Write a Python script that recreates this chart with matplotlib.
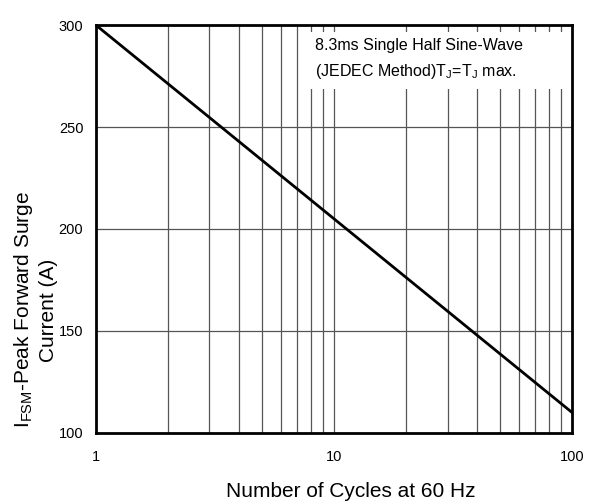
import numpy as np
import matplotlib.pyplot as plt

plt.rcParams['font.family'] = ['Liberation Sans', 'DejaVu Sans']

# surge curve endpoints
cycles = [1, 100]
current = [300, 110]

x_ticks = [1, 10, 100]
y_ticks = [100, 150, 200, 250, 300]

fig = plt.figure(figsize=(5.99, 5.01), dpi=100)
ax = fig.add_axes([0.160, 0.136, 0.795, 0.814])

ax.set_xscale('log')
ax.set_xlim(1, 100)
ax.set_ylim(100, 300)

# grid lines at every cycle count
for v in list(range(2, 10)) + list(range(10, 100, 10)):
    ax.axvline(v, color='#555555', lw=0.9, zorder=1)
for v in y_ticks[1:-1]:
    ax.axhline(v, color='#555555', lw=0.9, zorder=1)

ax.plot(cycles, current, color='black', lw=2, zorder=3)

ax.set_xticks(x_ticks)
ax.set_xticklabels([str(t) for t in x_ticks])
ax.set_yticks(y_ticks)
ax.minorticks_off()
ax.tick_params(length=0, labelsize=10.5)
ax.tick_params(axis='x', pad=12)
ax.tick_params(axis='y', pad=9)
for s in ax.spines.values():
    s.set_linewidth(2)
    s.set_zorder(4)

# white patch behind the note
ax.add_patch(plt.Rectangle((0.435, 0.843), 0.565, 0.14, transform=ax.transAxes,
                           facecolor='white', edgecolor='none', zorder=2))
ax.text(0.46, 0.951, '8.3ms Single Half Sine-Wave', transform=ax.transAxes,
        fontsize=11.5, va='center', ha='left', zorder=5)
ax.text(0.46, 0.885, '(JEDEC Method)T$_\\mathregular{J}$=T$_\\mathregular{J}$ max.',
        transform=ax.transAxes, fontsize=11.5, va='center', ha='left', zorder=5)

# axis titles placed on the figure
fig.text(351 / 599, 1 - 497 / 501, 'Number of Cycles at 60 Hz', fontsize=15,
         ha='center', va='baseline', zorder=1)
# the original x title is cut off just after "Hz"
fig.patches.append(plt.Rectangle((477 / 599, 0), 0.2, 0.06, transform=fig.transFigure,
                                 facecolor='white', edgecolor='none', zorder=2,
                                 figure=fig))

fig.text(35 / 599, 1 - 310 / 501,
         'I$_\\mathregular{FSM}$-Peak Forward Surge\nCurrent (A)', fontsize=15,
         rotation=90, ha='center', va='center', multialignment='center')

fig.savefig('out.png', dpi=100)
